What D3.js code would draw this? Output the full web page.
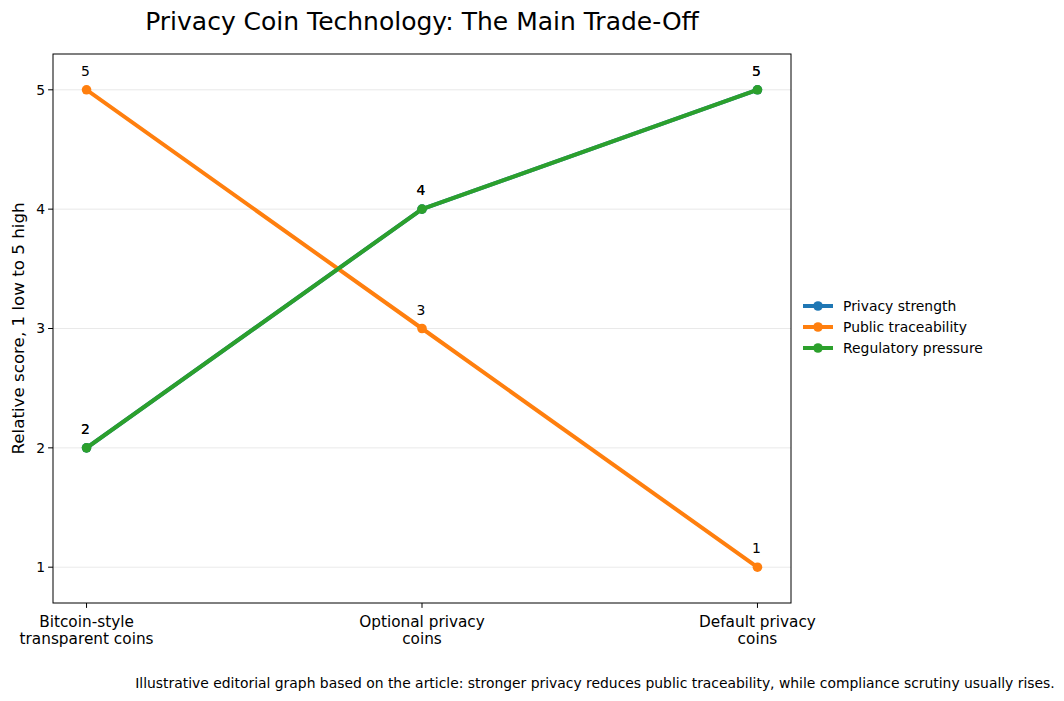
<!DOCTYPE html>
<html><head><meta charset="utf-8">
<script src="https://cdn.jsdelivr.net/npm/d3@7"></script>
<style>body{margin:0;background:#fff;} text{font-family:"DejaVu Sans",sans-serif;}</style>
</head><body>
<svg id="c" width="1064" height="701"></svg>
<script>
const categories = [["Bitcoin-style","transparent coins"],["Optional privacy","coins"],["Default privacy","coins"]];
const seriesNames = ["Privacy strength","Public traceability","Regulatory pressure"];
const privacyStrength = [2,4,5];
const publicTraceability = [5,3,1];
const regulatoryPressure = [2,4,5];
const yTicks = [1,2,3,4,5];
const colors = ["#1f77b4","#ff7f0e","#2ca02c"];
const series = [privacyStrength, publicTraceability, regulatoryPressure];

const svg = d3.select("#c");
const L=53,R=791,T=54,B=603;
const x = d3.scaleLinear().domain([-0.1,2.1]).range([L,R]);
const y = d3.scaleLinear().domain([0.7,5.3]).range([B,T]);

// grid
svg.append("g").selectAll("line").data(yTicks).join("line")
  .attr("x1",L).attr("x2",R).attr("y1",d=>y(d)).attr("y2",d=>y(d))
  .attr("stroke","#b0b0b0").attr("stroke-opacity",0.35).attr("stroke-width",0.8);

// lines
const line = d3.line().x((d,i)=>x(i)).y(d=>y(d));
series.forEach((s,k)=>{
  const g = svg.append("g");
  g.append("path").datum(s).attr("d",line).attr("fill","none")
    .attr("stroke",colors[k]).attr("stroke-width",4).attr("stroke-linejoin","round").attr("stroke-linecap","square");
  g.selectAll("circle").data(s).join("circle").attr("cx",(d,i)=>x(i)).attr("cy",d=>y(d)).attr("r",4.8).attr("fill",colors[k]);
});
series.forEach((s,k)=>{
  svg.append("g").selectAll("text").data(s).join("text")
    .attr("x",(d,i)=>x(i)-1).attr("y",d=>y(d)-14).attr("text-anchor","middle")
    .attr("font-size",13.9).attr("fill","#000").text(d=>d);
});

// frame
svg.append("rect").attr("x",L).attr("y",T).attr("width",R-L).attr("height",B-T)
  .attr("fill","none").attr("stroke","#000").attr("stroke-width",1);

// y axis
const ya = svg.append("g");
yTicks.forEach(t=>{
  ya.append("line").attr("x1",L-4.9).attr("x2",L).attr("y1",y(t)).attr("y2",y(t)).attr("stroke","#000");
  ya.append("text").attr("x",L-8).attr("y",y(t)).attr("dy","0.35em").attr("text-anchor","end").attr("font-size",13.9).text(t);
});
// x axis
categories.forEach((c,i)=>{
  svg.append("line").attr("x1",x(i)).attr("x2",x(i)).attr("y1",B).attr("y2",B+4.9).attr("stroke","#000");
  const t = svg.append("text").attr("x",x(i)).attr("y",B+24).attr("text-anchor","middle").attr("font-size",15.3);
  c.forEach((s,j)=>t.append("tspan").attr("x",x(i)).attr("dy",j?17:0).text(s));
});

svg.append("text").attr("transform",`translate(24,${(T+B)/2}) rotate(-90)`).attr("text-anchor","middle")
  .attr("font-size",16.7).text("Relative score, 1 low to 5 high");

svg.append("text").attr("x",(L+R)/2).attr("y",30).attr("text-anchor","middle").attr("font-size",25)
  .text("Privacy Coin Technology: The Main Trade-Off");

// legend
seriesNames.forEach((n,k)=>{
  const yy = 306 + k*21;
  svg.append("line").attr("x1",803).attr("x2",833).attr("y1",yy).attr("y2",yy).attr("stroke",colors[k]).attr("stroke-width",4);
  svg.append("circle").attr("cx",818).attr("cy",yy).attr("r",4.8).attr("fill",colors[k]);
  svg.append("text").attr("x",843).attr("y",yy).attr("dy","0.35em").attr("font-size",13.9).text(n);
});

svg.append("text").attr("x",595).attr("y",688).attr("text-anchor","middle").attr("font-size",13.9)
  .text("Illustrative editorial graph based on the article: stronger privacy reduces public traceability, while compliance scrutiny usually rises.");
</script>
</body></html>
